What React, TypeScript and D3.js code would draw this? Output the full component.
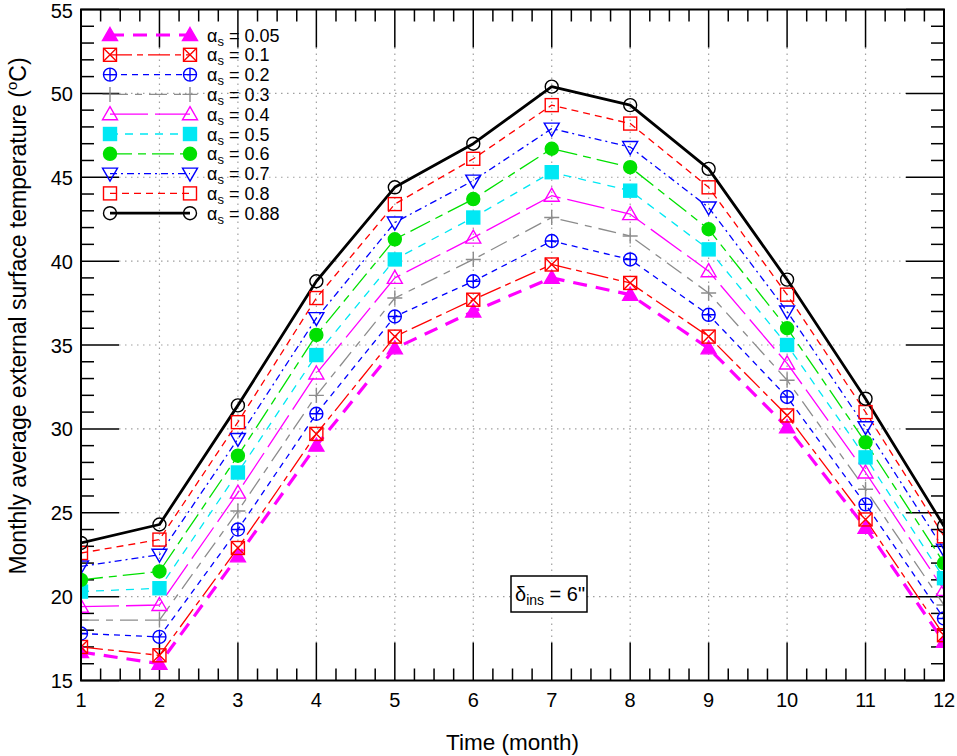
import React from "react";
import * as d3 from "d3";

const months = [1, 2, 3, 4, 5, 6, 7, 8, 9, 10, 11, 12];
const alphaLabels = ["0.05", "0.1", "0.2", "0.3", "0.4", "0.5", "0.6", "0.7", "0.8", "0.88"];

const a005 = [16.7, 16.0, 22.4, 29.0, 34.8, 37.0, 39.0, 38.0, 34.8, 30.1, 24.1, 17.3];
const a01 = [17.0, 16.5, 22.9, 29.7, 35.5, 37.7, 39.8, 38.7, 35.5, 30.8, 24.6, 17.7];
const a02 = [17.8, 17.6, 24.0, 30.9, 36.7, 38.8, 41.2, 40.1, 36.8, 31.9, 25.5, 18.7];
const a03 = [18.6, 18.6, 25.1, 32.0, 37.8, 40.1, 42.6, 41.5, 38.1, 32.9, 26.4, 19.5];
const a04 = [19.4, 19.5, 26.2, 33.3, 39.0, 41.4, 43.9, 42.8, 39.4, 33.9, 27.4, 20.4];
const a05 = [20.3, 20.5, 27.4, 34.4, 40.1, 42.6, 45.3, 44.2, 40.7, 35.0, 28.3, 21.1];
const a06 = [21.0, 21.5, 28.4, 35.6, 41.3, 43.7, 46.7, 45.6, 41.9, 36.0, 29.2, 22.0];
const a07 = [21.8, 22.5, 29.4, 36.6, 42.3, 44.8, 47.9, 46.8, 43.2, 37.0, 30.1, 22.8];
const a08 = [22.6, 23.4, 30.4, 37.8, 43.4, 46.1, 49.3, 48.2, 44.4, 38.0, 31.0, 23.6];
const a088 = [23.2, 24.3, 31.4, 38.8, 44.4, 47.0, 50.4, 49.3, 45.5, 38.9, 31.8, 24.2];

const seriesValues = [a005, a01, a02, a03, a04, a05, a06, a07, a08, a088];

const yTicks = [15, 20, 25, 30, 35, 40, 45, 50, 55];

type Style = { color: string; width: number; dash: string; marker: string };
const styles: Style[] = [
  { color: "#ff00ff", width: 3.2, dash: "14,9", marker: "triFilled" },
  { color: "#ff0000", width: 1.3, dash: "22,5,6,5", marker: "squareX" },
  { color: "#0000ff", width: 1.3, dash: "6,5", marker: "circlePlus" },
  { color: "#8c8c8c", width: 1.3, dash: "18,7,7,7", marker: "plus" },
  { color: "#ff00ff", width: 1.3, dash: "38,7", marker: "triOpen" },
  { color: "#00e8f4", width: 1.3, dash: "8,7", marker: "squareFilled" },
  { color: "#00e000", width: 1.3, dash: "22,6,8,6", marker: "circleFilled" },
  { color: "#0000ff", width: 1.3, dash: "7,4,2,4", marker: "triDown" },
  { color: "#ff0000", width: 1.3, dash: "7,5", marker: "squareOpen" },
  { color: "#000000", width: 2.8, dash: "", marker: "circleOpen" },
];

const W = 957;
const H = 756;
const L = 81;
const R = 944;
const T = 9.5;
const B = 680.5;

const x = d3.scaleLinear().domain([1, 12]).range([L, R]);
const y = d3.scaleLinear().domain([15, 55]).range([B, T]);

function Marker({ type, cx, cy, color }: { type: string; cx: number; cy: number; color: string }) {
  const s = 6.5;
  const sw = 1.4;
  switch (type) {
    case "triFilled":
      return <path d={`M${cx},${cy - 7.5}L${cx + 7.5},${cy + 5.5}L${cx - 7.5},${cy + 5.5}Z`} fill={color} stroke={color} strokeWidth={sw} />;
    case "triOpen":
      return <path d={`M${cx},${cy - 7.5}L${cx + 7.5},${cy + 5.5}L${cx - 7.5},${cy + 5.5}Z`} fill="none" stroke={color} strokeWidth={sw} />;
    case "triDown":
      return <path d={`M${cx},${cy + 7.5}L${cx + 7.5},${cy - 5.5}L${cx - 7.5},${cy - 5.5}Z`} fill="none" stroke={color} strokeWidth={sw} />;
    case "squareX":
      return (
        <g stroke={color} strokeWidth={sw} fill="none">
          <rect x={cx - s} y={cy - s} width={2 * s} height={2 * s} />
          <path d={`M${cx - s},${cy - s}L${cx + s},${cy + s}M${cx + s},${cy - s}L${cx - s},${cy + s}`} />
        </g>
      );
    case "squareOpen":
      return <rect x={cx - s} y={cy - s} width={2 * s} height={2 * s} fill="none" stroke={color} strokeWidth={sw} />;
    case "squareFilled":
      return <rect x={cx - s} y={cy - s} width={2 * s} height={2 * s} fill={color} stroke={color} strokeWidth={sw} />;
    case "circlePlus":
      return (
        <g stroke={color} strokeWidth={sw} fill="none">
          <circle cx={cx} cy={cy} r={s} />
          <path d={`M${cx - s},${cy}L${cx + s},${cy}M${cx},${cy - s}L${cx},${cy + s}`} />
        </g>
      );
    case "plus":
      return <path d={`M${cx - 7.5},${cy}L${cx + 7.5},${cy}M${cx},${cy - 7.5}L${cx},${cy + 7.5}`} stroke={color} strokeWidth={sw} fill="none" />;
    case "circleFilled":
      return <circle cx={cx} cy={cy} r={s} fill={color} stroke={color} strokeWidth={sw} />;
    case "circleOpen":
      return <circle cx={cx} cy={cy} r={s} fill="none" stroke={color} strokeWidth={sw} />;
    default:
      return null;
  }
}

export default function App() {
  const line = d3
    .line<number>()
    .x((_, i) => x(months[i]))
    .y((d) => y(d));

  const majorX = months;
  const minorX = d3.range(1, 12.001, 0.25).filter((v) => Math.abs(v - Math.round(v)) > 1e-6);
  const minorY = d3.range(15, 55.001, 1).filter((v) => v % 5 !== 0);
  const majLen = 38;
  const minLen = 12;
  const font = "Arial, 'Liberation Sans', sans-serif";

  const legX1 = 110;
  const legX2 = 190;
  const legY0 = 35;
  const legDy = 19.8;

  return (
    <div style={{ position: "absolute", left: 0, top: 0 }}>
      <svg width={W} height={H} style={{ display: "block", background: "#fff" }} fontFamily={font}>
        <defs>
          <clipPath id="plotClip">
            <rect x={L} y={T} width={R - L} height={B - T} />
          </clipPath>
        </defs>
        {/* grid */}
        <g stroke="#a0a0a0" strokeWidth={1.2} strokeDasharray="1.5,4.5">
          {majorX.map((m) => (
            <line key={"gx" + m} x1={x(m)} x2={x(m)} y1={T + majLen} y2={B - majLen} />
          ))}
          {yTicks.map((v) => (
            <line key={"gy" + v} x1={L + majLen} x2={R - majLen} y1={y(v)} y2={y(v)} />
          ))}
        </g>
        {/* ticks */}
        <g stroke="#000" strokeWidth={1.5}>
          {majorX.map((m) => (
            <g key={"tx" + m}>
              <line x1={x(m)} x2={x(m)} y1={B} y2={B - majLen} />
              <line x1={x(m)} x2={x(m)} y1={T} y2={T + majLen} />
            </g>
          ))}
          {minorX.map((m) => (
            <g key={"mx" + m}>
              <line x1={x(m)} x2={x(m)} y1={B} y2={B - minLen} />
              <line x1={x(m)} x2={x(m)} y1={T} y2={T + minLen} />
            </g>
          ))}
          {yTicks.map((v) => (
            <g key={"ty" + v}>
              <line x1={L} x2={L + majLen} y1={y(v)} y2={y(v)} />
              <line x1={R} x2={R - majLen} y1={y(v)} y2={y(v)} />
            </g>
          ))}
          {minorY.map((v) => (
            <g key={"my" + v}>
              <line x1={L} x2={L + minLen + 1} y1={y(v)} y2={y(v)} />
              <line x1={R} x2={R - minLen - 1} y1={y(v)} y2={y(v)} />
            </g>
          ))}
        </g>
        {/* series */}
        <g clipPath="url(#plotClip)">
          {seriesValues.map((vals, si) => (
            <path
              key={"l" + si}
              d={line(vals) || ""}
              fill="none"
              stroke={styles[si].color}
              strokeWidth={styles[si].width}
              strokeDasharray={styles[si].dash || undefined}
              strokeLinejoin="round"
            />
          ))}
          {seriesValues.map((vals, si) => (
            <g key={"m" + si}>
              {vals.map((v, i) => (
                <Marker key={i} type={styles[si].marker} cx={x(months[i])} cy={y(v)} color={styles[si].color} />
              ))}
            </g>
          ))}
        </g>
        {/* frame */}
        <rect x={L} y={T} width={R - L} height={B - T} fill="none" stroke="#000" strokeWidth={2} />
        {/* tick labels */}
        <g fontSize={20} fill="#000">
          {majorX.map((m) => (
            <text key={"lx" + m} x={x(m)} y={707} textAnchor="middle">
              {m}
            </text>
          ))}
          {yTicks.map((v) => (
            <text key={"ly" + v} x={73} y={Math.max(y(v) + 7.5, 18)} textAnchor="end">
              {v}
            </text>
          ))}
        </g>
        {/* axis titles */}
        <text x={(L + R) / 2} y={750} textAnchor="middle" fontSize={22.5}>
          Time (month)
        </text>
        <text transform={`translate(26,316) rotate(-90)`} textAnchor="middle" fontSize={23}>
          Monthly average external surface temperature (
          <tspan fontSize={15} dy={-9}>o</tspan>
          <tspan dy={9}>C)</tspan>
        </text>
        {/* legend */}
        <g>
          {styles.map((st, i) => {
            const ly = legY0 + i * legDy;
            return (
              <g key={"leg" + i}>
                <line
                  x1={legX1}
                  x2={legX2}
                  y1={ly}
                  y2={ly}
                  stroke={st.color}
                  strokeWidth={st.width}
                  strokeDasharray={st.dash || undefined}
                />
                <Marker type={st.marker} cx={legX1} cy={ly} color={st.color} />
                <Marker type={st.marker} cx={legX2} cy={ly} color={st.color} />
                <text x={207} y={ly + 6.5} fontSize={18}>
                  α<tspan fontSize={13} dy={4}>s</tspan>
                  <tspan dy={-4}> = {alphaLabels[i]}</tspan>
                </text>
              </g>
            );
          })}
        </g>
        {/* annotation */}
        <rect x={511} y={576} width={76} height={36} fill="#fff" stroke="#000" strokeWidth={1.5} />
        <text x={515} y={601} fontSize={20}>
          δ<tspan fontSize={14} dy={4}>ins</tspan>
          <tspan dy={-4}> = 6"</tspan>
        </text>
      </svg>
    </div>
  );
}
